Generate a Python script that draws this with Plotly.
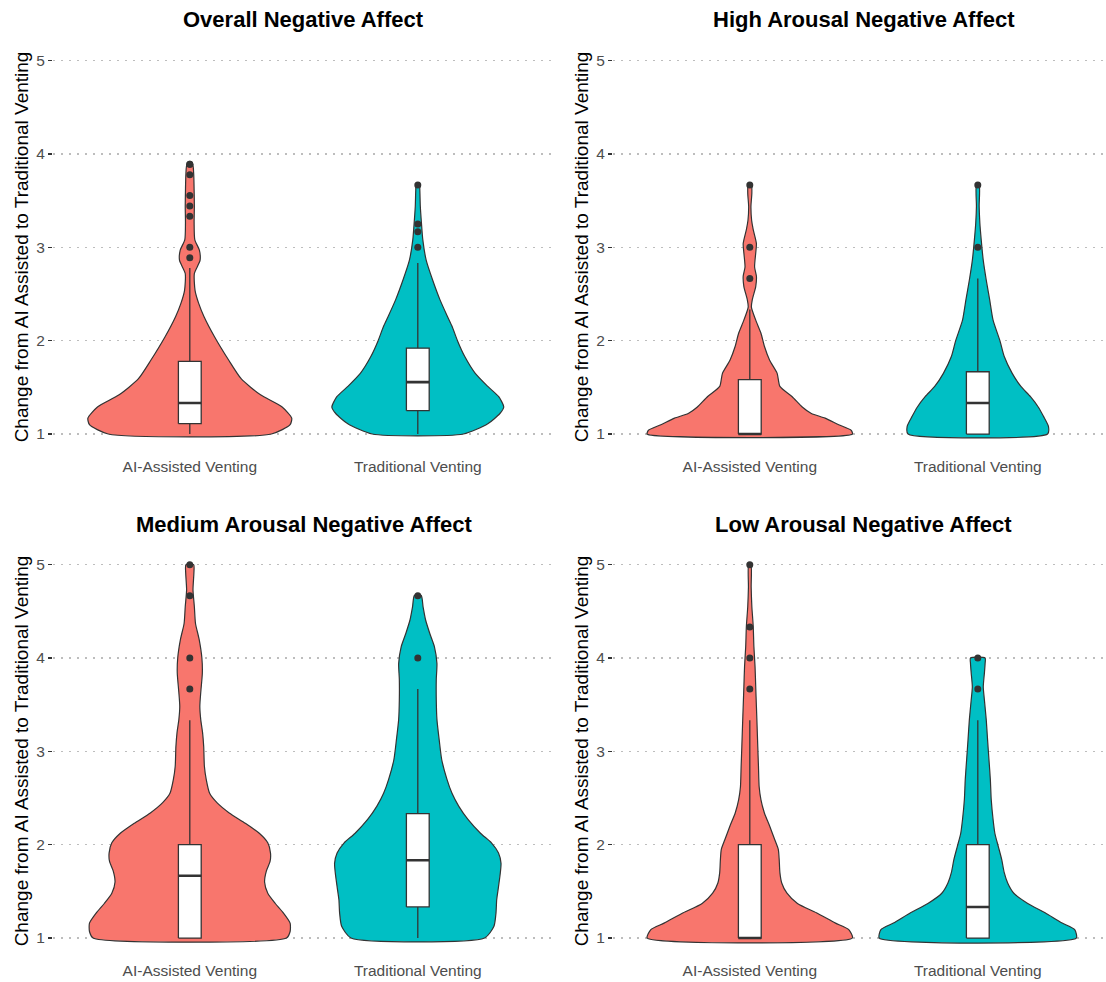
import plotly.graph_objects as go

W, H = 1106, 982
RED, TEAL = "#F8766D", "#00BFC4"
DARK = "#333333"

categories = ["AI-Assisted Venting", "Traditional Venting"]
panel_titles = ["Overall Negative Affect", "High Arousal Negative Affect",
                "Medium Arousal Negative Affect", "Low Arousal Negative Affect"]
y_ticks = [1, 2, 3, 4, 5]

# ---- violin outlines: y levels and half-widths (x units) ----
overall_ai_y = [1.0, 1.1, 1.17, 1.29, 1.42, 1.59, 1.79, 2.04, 2.26, 2.4, 2.54, 2.72, 2.86, 2.97, 3.08, 3.26, 3.44, 3.61, 3.79, 3.89]
overall_ai_w = [0.358, 0.44, 0.447, 0.405, 0.31, 0.226, 0.171, 0.109, 0.062, 0.039, 0.023, 0.02, 0.045, 0.042, 0.022, 0.019, 0.02, 0.019, 0.017, 0.012]
overall_tr_y = [1.0, 1.11, 1.22, 1.29, 1.4, 1.51, 1.65, 1.83, 2.0, 2.15, 2.26, 2.44, 2.65, 2.86, 3.08, 3.26, 3.44, 3.61, 3.67]
overall_tr_w = [0.2, 0.307, 0.36, 0.377, 0.355, 0.307, 0.252, 0.206, 0.174, 0.151, 0.13, 0.097, 0.065, 0.037, 0.022, 0.016, 0.011, 0.009, 0.007]

high_ai_y = [1.0, 1.04, 1.1, 1.17, 1.22, 1.29, 1.4, 1.51, 1.65, 1.79, 1.94, 2.08, 2.22, 2.36, 2.44, 2.58, 2.69, 2.79, 2.94, 3.04, 3.19, 3.29, 3.44, 3.58, 3.67]
high_ai_w = [0.45, 0.445, 0.39, 0.33, 0.27, 0.23, 0.186, 0.132, 0.12, 0.087, 0.064, 0.049, 0.026, 0.007, 0.011, 0.026, 0.029, 0.021, 0.026, 0.029, 0.015, 0.008, 0.005, 0.009, 0.007]
high_tr_y = [1.0, 1.08, 1.19, 1.29, 1.4, 1.51, 1.65, 1.83, 2.0, 2.22, 2.44, 2.65, 2.86, 3.08, 3.26, 3.44, 3.67]
high_tr_w = [0.306, 0.31, 0.288, 0.265, 0.231, 0.189, 0.151, 0.116, 0.097, 0.067, 0.052, 0.037, 0.024, 0.015, 0.009, 0.006, 0.006]

med_ai_y = [1.0, 1.07, 1.16, 1.27, 1.37, 1.48, 1.6, 1.72, 1.82, 1.91, 2.02, 2.12, 2.23, 2.34, 2.45, 2.55, 2.7, 2.84, 3.05, 3.2, 3.34, 3.48, 3.63, 3.84, 4.0, 4.2, 4.37, 4.55, 4.73, 4.91, 5.0]
med_ai_w = [0.424, 0.44, 0.44, 0.41, 0.375, 0.342, 0.328, 0.336, 0.352, 0.354, 0.342, 0.306, 0.243, 0.173, 0.119, 0.087, 0.072, 0.064, 0.061, 0.056, 0.048, 0.044, 0.048, 0.055, 0.053, 0.041, 0.025, 0.02, 0.014, 0.018, 0.017]
med_tr_y = [1.0, 1.125, 1.27, 1.41, 1.55, 1.7, 1.8, 1.91, 2.02, 2.12, 2.27, 2.41, 2.55, 2.7, 2.91, 3.12, 3.34, 3.55, 3.77, 3.94, 4.12, 4.26, 4.41, 4.55, 4.67]
med_tr_w = [0.293, 0.334, 0.343, 0.346, 0.354, 0.362, 0.365, 0.354, 0.323, 0.276, 0.22, 0.18, 0.15, 0.128, 0.105, 0.094, 0.084, 0.081, 0.081, 0.084, 0.073, 0.053, 0.034, 0.023, 0.015]

low_ai_y = [1.0, 1.09, 1.16, 1.27, 1.37, 1.48, 1.59, 1.7, 1.84, 1.95, 2.05, 2.2, 2.34, 2.48, 2.62, 2.84, 3.05, 3.27, 3.48, 3.69, 3.91, 4.12, 4.34, 4.55, 4.76, 5.0]
low_ai_w = [0.45, 0.434, 0.376, 0.292, 0.209, 0.163, 0.14, 0.132, 0.129, 0.125, 0.11, 0.087, 0.064, 0.049, 0.041, 0.038, 0.035, 0.032, 0.029, 0.026, 0.023, 0.018, 0.015, 0.009, 0.006, 0.005]
low_tr_y = [1.0, 1.09, 1.16, 1.27, 1.37, 1.48, 1.59, 1.7, 1.84, 1.98, 2.12, 2.27, 2.48, 2.7, 2.91, 3.12, 3.34, 3.55, 3.69, 3.84, 3.94, 4.0]
low_tr_w = [0.432, 0.425, 0.37, 0.295, 0.219, 0.158, 0.131, 0.116, 0.105, 0.09, 0.075, 0.067, 0.059, 0.055, 0.049, 0.043, 0.037, 0.029, 0.024, 0.029, 0.032, 0.032]

# ---- box summaries: [lower whisker, Q1, median, Q3, upper whisker] ----
overall_ai_box = [1.0, 1.111, 1.333, 1.778, 2.778]
overall_tr_box = [1.0, 1.25, 1.556, 1.92, 2.833]
high_ai_box = [1.0, 1.0, 1.0, 1.583, 2.333]
high_tr_box = [1.0, 1.0, 1.333, 1.667, 2.667]
med_ai_box = [1.0, 1.0, 1.667, 2.0, 3.333]
med_tr_box = [1.0, 1.333, 1.833, 2.333, 3.667]
low_ai_box = [1.0, 1.0, 1.0, 2.0, 3.333]
low_tr_box = [1.0, 1.0, 1.333, 2.0, 3.333]

# ---- outliers ----
overall_ai_out = [3.889, 3.889, 3.778, 3.556, 3.444, 3.333, 3.0, 2.889]
overall_tr_out = [3.667, 3.25, 3.167, 3.0]
high_ai_out = [3.667, 3.0, 2.667]
high_tr_out = [3.667, 3.0]
med_ai_out = [5.0, 4.667, 4.0, 3.667]
med_tr_out = [4.667, 4.0]
low_ai_out = [5.0, 4.333, 4.0, 3.667]
low_tr_out = [4.0, 3.667]

panels = [
    [(overall_ai_y, overall_ai_w, overall_ai_box, overall_ai_out),
     (overall_tr_y, overall_tr_w, overall_tr_box, overall_tr_out)],
    [(high_ai_y, high_ai_w, high_ai_box, high_ai_out),
     (high_tr_y, high_tr_w, high_tr_box, high_tr_out)],
    [(med_ai_y, med_ai_w, med_ai_box, med_ai_out),
     (med_tr_y, med_tr_w, med_tr_box, med_tr_out)],
    [(low_ai_y, low_ai_w, low_ai_box, low_ai_out),
     (low_tr_y, low_tr_w, low_tr_box, low_tr_out)],
]

# pixel layout of plot areas (right column is cropped at the image edge)
UNIT = 228.0
x_px = [(53, 555), (613, 1106), (53, 555), (613, 1106)]
y_px = [(42, 452.7), (42, 452.7), (546, 956.7), (546, 956.7)]

fig = go.Figure()
BOXW = 0.05
FONT = "Liberation Sans, Arial, Helvetica, sans-serif"

for p, groups in enumerate(panels):
    ax = "" if p == 0 else str(p + 1)
    xa, ya = "x" + ax, "y" + ax
    for g, (vy, vw, box, outs) in enumerate(groups):
        c = g + 1
        col = RED if g == 0 else TEAL
        xs = [c + w for w in vw] + [c - w for w in reversed(vw)] + [c + vw[0]]
        ys = list(vy) + list(reversed(vy)) + [vy[0]]
        fig.add_trace(go.Scatter(x=xs, y=ys, mode="lines", fill="toself",
                                 fillcolor=col, line=dict(color=DARK, width=1.2, shape="spline", smoothing=0.6),
                                 xaxis=xa, yaxis=ya, hoverinfo="skip", showlegend=False))
        lw, q1, med, q3, uw = box
        fig.add_trace(go.Scatter(x=[c, c, None, c, c], y=[lw, q1, None, q3, uw], mode="lines",
                                 line=dict(color=DARK, width=1.3), xaxis=xa, yaxis=ya,
                                 hoverinfo="skip", showlegend=False))
        fig.add_trace(go.Scatter(x=[c - BOXW, c + BOXW, c + BOXW, c - BOXW, c - BOXW],
                                 y=[q1, q1, q3, q3, q1], mode="lines", fill="toself",
                                 fillcolor="white", line=dict(color=DARK, width=1.3),
                                 xaxis=xa, yaxis=ya, hoverinfo="skip", showlegend=False))
        fig.add_trace(go.Scatter(x=[c - BOXW, c + BOXW], y=[med, med], mode="lines",
                                 line=dict(color=DARK, width=2.6), xaxis=xa, yaxis=ya,
                                 hoverinfo="skip", showlegend=False))
        fig.add_trace(go.Scatter(x=[c] * len(outs), y=outs, mode="markers",
                                 marker=dict(color=DARK, size=7), xaxis=xa, yaxis=ya,
                                 hoverinfo="skip", showlegend=False))

    (x0, x1), (y0, y1) = x_px[p], y_px[p]
    xr = [0.4, 0.4 + (x1 - x0) / UNIT]
    full_center = x0 + 2.2 * UNIT / 2
    fig.layout["xaxis" + ax] = dict(domain=[x0 / W, x1 / W], range=xr,
                                    tickvals=[1, 2], ticktext=categories, showgrid=False,
                                    zeroline=False, showline=False, ticks="", fixedrange=True,
                                    ticklabelstandoff=3,
                                    tickfont=dict(size=15.5, color="#4D4D4D", family=FONT),
                                    anchor=ya)
    fig.layout["yaxis" + ax] = dict(domain=[1 - y1 / H, 1 - y0 / H], range=[0.8, 5.2],
                                    tickvals=y_ticks, showgrid=True, gridcolor="#BDBDBD",
                                    griddash="2px,6px", gridwidth=1.6, zeroline=False, showline=False,
                                    ticks="outside", ticklen=4, tickcolor=DARK, tickwidth=1.3,
                                    tickfont=dict(size=15.5, color="#4D4D4D", family=FONT),
                                    anchor=xa, fixedrange=True)
    fig.add_annotation(text="<b>" + panel_titles[p] + "</b>", xref="paper", yref="paper",
                       x=full_center / W, y=1 - (y0 - 22) / H, showarrow=False,
                       font=dict(size=22, color="black", family=FONT), xanchor="center", yanchor="middle")
    fig.add_annotation(text="Change from AI Assisted to Traditional Venting", xref="paper", yref="paper",
                       x=(x0 - 32) / W, y=1 - ((y0 + y1) / 2) / H, showarrow=False, textangle=-90,
                       font=dict(size=19, color="black", family=FONT), xanchor="center", yanchor="middle")

fig.update_layout(width=W, height=H, margin=dict(l=0, r=0, t=0, b=0),
                  paper_bgcolor="white", plot_bgcolor="white", showlegend=False)
fig.write_html("out.html", config={"displayModeBar": False, "staticPlot": True},
               post_script="document.body.style.margin='0px';document.body.style.padding='0px';")
